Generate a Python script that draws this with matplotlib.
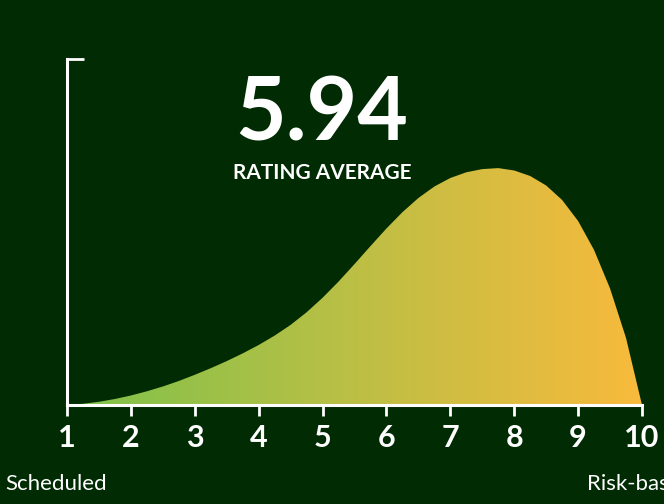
import numpy as np
import matplotlib
matplotlib.use("Agg")
import matplotlib.pyplot as plt
from matplotlib.colors import LinearSegmentedColormap

# ---- data ----
rating = [1.0, 1.25, 1.5, 1.75, 2.0, 2.25, 2.5, 2.75, 3.0, 3.25, 3.5, 3.75,
          4.0, 4.25, 4.5, 4.75, 5.0, 5.25, 5.5, 5.75, 6.0, 6.25, 6.5, 6.75,
          7.0, 7.25, 7.5, 7.75, 8.0, 8.25, 8.5, 8.75, 9.0, 9.25, 9.5, 9.75, 10.0]
density = [0.0, 0.0012, 0.0032, 0.0060, 0.0095, 0.0137, 0.0185, 0.0240, 0.0302,
           0.0368, 0.0439, 0.0516, 0.0600, 0.0694, 0.0801, 0.0927, 0.1072, 0.1234,
           0.1409, 0.1589, 0.1765, 0.1928, 0.2070, 0.2185, 0.2270, 0.2327, 0.2359,
           0.2369, 0.2345, 0.2290, 0.2195, 0.2050, 0.1840, 0.1550, 0.1165, 0.0670,
           0.0]
xticks = [1, 2, 3, 4, 5, 6, 7, 8, 9, 10]
average_text = "5.94"
average_label = "RATING AVERAGE"
left_label = "Scheduled"
right_label = "Risk-based"

BG = "#012b02"
W, H = 664, 504
fig = plt.figure(figsize=(W / 100, H / 100), dpi=100, facecolor=BG)
ax = fig.add_axes([67 / W, (H - 405) / H, (642 - 67) / W, (405 - 59) / H])
ax.set_facecolor(BG)
ax.set_xlim(1, 10)
ymax = 0.346
ax.set_ylim(0, ymax)

x = np.array(rating)
y = np.array(density)

# gradient fill clipped to the area under the curve
poly = ax.fill_between(x, y, 0, color="none", lw=0)
cmap = LinearSegmentedColormap.from_list("g", ["#7dc24b", "#bcbf45", "#f8ba3c"])
grad = np.linspace(0, 1, 256).reshape(1, -1)
im = ax.imshow(grad, extent=[1, 10, 0, ymax], aspect="auto", cmap=cmap,
               origin="lower", zorder=1)
path = poly.get_paths()[0]
im.set_clip_path(path, transform=ax.transData)

# spines / ticks
for s in ["top", "right"]:
    ax.spines[s].set_visible(False)
for s in ["left", "bottom"]:
    ax.spines[s].set_color("white")
    ax.spines[s].set_linewidth(2.2)
    ax.spines[s].set_zorder(3)

ax.set_xticks(xticks)
ax.set_xticklabels([str(t) for t in xticks], fontfamily="Lato",
                   fontweight="bold", fontsize=22, color="white")
ax.tick_params(axis="x", direction="out", length=8, width=2, color="white", pad=6)
ax.set_yticks([ymax])
ax.set_yticklabels([""])
ax.tick_params(axis="y", direction="in", length=12, width=2, color="white")

# texts
fig.text(322 / W, 1 - 115 / H, average_text, ha="center", va="center",
         fontfamily="Lato", fontweight="bold", fontsize=63, color="white")
fig.text(322 / W, 1 - 173 / H, average_label, ha="center", va="center",
         fontfamily="Lato", fontweight="bold", fontsize=15, color="white")
fig.text(5 / W, 1 - 484 / H, left_label, ha="left", va="center",
         fontfamily="Lato", fontsize=16, color="white")
fig.text(587 / W, 1 - 484 / H, right_label, ha="left", va="center",
         fontfamily="Lato", fontsize=16, color="white")

fig.savefig("out.png", dpi=100, facecolor=BG)
